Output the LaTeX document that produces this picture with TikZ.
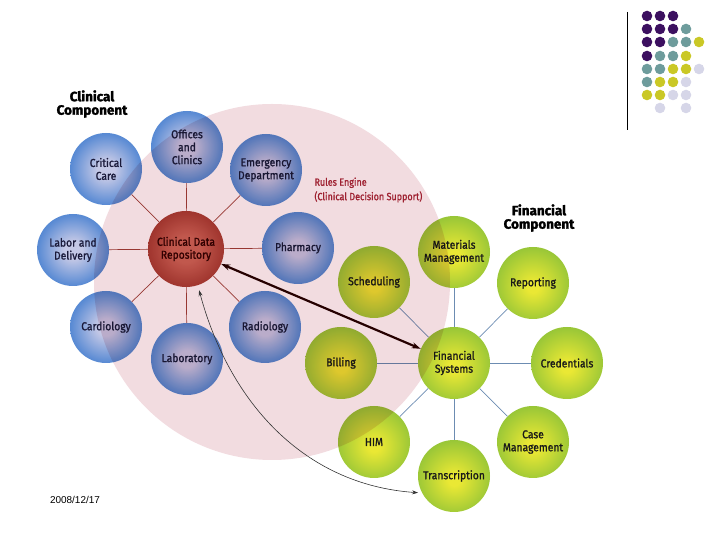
\documentclass[tikz,border=0pt]{standalone}
\usepackage{fontspec}
\setmainfont{Fira Sans}
\newfontfamily\ballfont{Fira Sans}[FakeStretch=0.9,FakeBold=1.2]
\newfontfamily\headfont{Fira Sans}[FakeBold=2]
\newfontfamily\rulefont{Fira Sans}[FakeStretch=0.86,FakeBold=1.2]
\newfontfamily\datefont{Liberation Sans}
\usetikzlibrary{arrows.meta, calc}
\usepackage{xcolor}
\definecolor{ballblue}{RGB}{46,116,204}
\definecolor{ballmid}{RGB}{92,140,212}
\definecolor{ballcore}{RGB}{196,200,230}
\definecolor{repoedge}{RGB}{146,36,30}
\definecolor{repocore}{RGB}{204,102,88}
\definecolor{ballgreen}{RGB}{128,188,56}
\definecolor{ballcore2}{RGB}{234,232,52}
\definecolor{rosebg}{RGB}{242,220,224}
\definecolor{rulered}{RGB}{158,32,48}
\definecolor{spoke}{RGB}{160,64,58}
\definecolor{finspoke}{RGB}{108,140,178}
\definecolor{navytext}{RGB}{26,26,58}
\definecolor{dotpurple}{RGB}{60,16,96}
\definecolor{dotteal}{RGB}{110,156,156}
\definecolor{dotyellow}{RGB}{202,200,38}
\definecolor{dotlav}{RGB}{214,214,232}
\pgfdeclareradialshading{blueball}{\pgfpoint{0bp}{0bp}}{color(0bp)=(ballcore); color(6bp)=(ballcore); color(24bp)=(ballmid); color(35bp)=(ballblue); color(50bp)=(ballblue)}
\pgfdeclareradialshading{redball}{\pgfpoint{0bp}{0bp}}{color(0bp)=(repocore); color(9bp)=(repocore); color(35bp)=(repoedge); color(50bp)=(repoedge)}
\pgfdeclareradialshading{greenball}{\pgfpoint{0bp}{-3bp}}{color(0bp)=(ballcore2); color(4bp)=(ballcore2); color(33bp)=(ballgreen); color(50bp)=(ballgreen)}
\tikzset{
  ball/.style={circle, minimum size=72bp, inner sep=0pt, align=center,
    font=\ballfont\fontsize{11.5}{13}\selectfont},
  clinic/.style={ball, shading=blueball, text=navytext},
  repo/.style={ball, minimum size=76bp, shading=redball, text=black!80!red},
  finance/.style={ball, shading=greenball, text=black!90},
  heading/.style={align=center, font=\headfont\bfseries\fontsize{13.5}{13.5}\selectfont},
}

\begin{document}
\begin{tikzpicture}[x=1bp, y=1bp]
  \useasboundingbox (0,0) rectangle (720,540);
  % Clinical component
  \node[repo] (cdr) at (186,291) {Clinical Data\\Repository};
  \node[clinic] (off) at (187,393) {Offices\\and\\Clinics};
  \node[clinic] (crit) at (106,371) {Critical\\Care};
  \node[clinic] (emer) at (266,370) {Emergency\\Department};
  \node[clinic] (labor) at (73,290) {Labor and\\Delivery};
  \node[clinic] (pharm) at (298,292) {Pharmacy};
  \node[clinic] (card) at (106,213) {Cardiology};
  \node[clinic] (radio) at (265,213) {Radiology};
  \node[clinic] (lab) at (187,181) {Laboratory};
  \foreach \n in {off,crit,emer,labor,pharm,card,radio,lab}
    \draw[spoke, line width=0.7pt] (cdr) -- (\n);
  % Financial component
  \node[finance] (fin) at (454,177) {Financial\\Systems};
  \node[finance] (mat) at (454,288) {Materials\\Management};
  \node[finance] (sched) at (374,258) {Scheduling};
  \node[finance] (rep) at (533,257) {Reporting};
  \node[finance] (bill) at (341,177) {Billing};
  \node[finance] (cred) at (567,177) {Credentials};
  \node[finance] (him) at (374,98) {HIM};
  \node[finance] (trans) at (454,64) {Transcription};
  \node[finance] (cases) at (533,98) {Case\\Management};
  \foreach \n in {mat,sched,rep,bill,cred,him,trans,cases}
    \draw[finspoke, line width=0.7pt] (fin) -- (\n);
  % Rules engine area
  \begin{scope}[blend mode=multiply]
    \fill[rosebg] (272,258) circle (178);
  \end{scope}
  \node[anchor=west, align=left, text=rulered, font=\rulefont\fontsize{10.5}{14.5}\selectfont]
    (rules) at (311,350) {Rules Engine\\(Clinical Decision Support)};
  \node[heading] (clinhead) at (92,436) {Clinical\\Component};
  \node[heading] (finhead) at (539,322) {Financial\\Component};
  % Links between the two
  \draw[{Stealth[length=9bp,width=6bp]}-{Stealth[length=9bp,width=6bp]}, line width=2.2pt, black!75!red!60!black]
    (cdr) -- (fin);
  \draw[{Stealth[length=6bp,width=4bp]}-{Stealth[length=6bp,width=4bp]}, line width=0.6pt, black!80, shorten <=5bp, shorten >=4bp]
    (cdr.-72) to[out=-75, in=176] (trans.208);
  % Slide decoration
  \draw[line width=0.8pt] (627,528) -- (627,410);
  \foreach \c [count=\i] in {dotpurple,dotpurple,dotpurple}
    \fill[\c] (634+13*\i,524) circle (5.3);
  \foreach \c [count=\i] in {dotpurple,dotpurple,dotpurple,dotteal}
    \fill[\c] (634+13*\i,511) circle (5.3);
  \foreach \c [count=\i] in {dotpurple,dotpurple,dotteal,dotteal,dotyellow}
    \fill[\c] (634+13*\i,498) circle (5.3);
  \foreach \c [count=\i] in {dotpurple,dotteal,dotteal,dotyellow}
    \fill[\c] (634+13*\i,484) circle (5.3);
  \foreach \c [count=\i] in {dotteal,dotteal,dotyellow,dotyellow,dotlav}
    \fill[\c] (634+13*\i,471) circle (5.3);
  \foreach \c [count=\i] in {dotteal,dotyellow,dotyellow,dotlav}
    \fill[\c] (634+13*\i,458) circle (5.3);
  \foreach \c [count=\i] in {dotyellow,dotyellow,dotlav,dotlav}
    \fill[\c] (634+13*\i,445) circle (5.3);
  \fill[dotlav] (660,432) circle (5.3) (686,432) circle (5.3);
  \node[font=\datefont\fontsize{10}{12}\selectfont] (date) at (75,40) {2008/12/17};
\end{tikzpicture}
\end{document}
